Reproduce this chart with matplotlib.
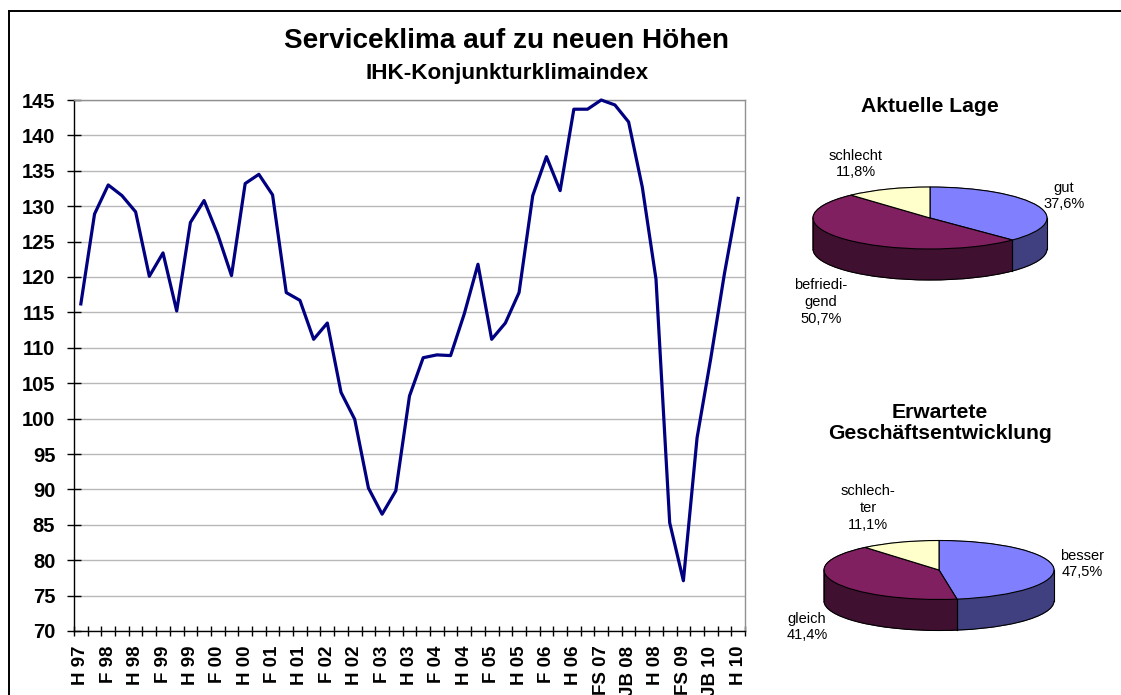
import matplotlib
matplotlib.use('Agg')
import matplotlib.pyplot as plt
from matplotlib.patches import Arc
from matplotlib.lines import Line2D
import numpy as np

# ---------------- data ----------------
values = [116.2, 128.9, 133.0, 131.5, 129.2, 120.1, 123.4, 115.2, 127.7, 130.8,
          126.0, 120.2, 133.2, 134.5, 131.6, 117.8, 116.7, 111.2, 113.5, 103.7,
          99.9, 90.2, 86.5, 89.8, 103.2, 108.6, 109.0, 108.9, 114.8, 121.8,
          111.2, 113.5, 117.8, 131.5, 137.0, 132.2, 143.7, 143.7, 145.0, 144.3,
          141.9, 132.7, 119.7, 85.3, 77.1, 97.3, 108.5, 120.5, 131.1]
tick_labels = ["H 97", "F 98", "H 98", "F 99", "H 99", "F 00", "H 00", "F 01",
               "H 01", "F 02", "H 02", "F 03", "H 03", "F 04", "H 04", "F 05",
               "H 05", "F 06", "H 06", "FS 07", "JB 08", "H 08", "FS 09",
               "JB 10", "H 10"]
y_ticks = list(range(70, 146, 5))

lage_labels = ["gut\n37,6%", "befriedi-\ngend\n50,7%", "schlecht\n11,8%"]
lage_values = [37.6, 50.7, 11.8]
erw_labels = ["besser\n47,5%", "gleich\n41,4%", "schlech-\nter\n11,1%"]
erw_values = [47.5, 41.4, 11.1]

top_colors = ["#8080FF", "#802060", "#FFFFCC"]
side_colors = ["#404080", "#401030", "#808066"]

# ---------------- figure ----------------
W, H = 1121, 695
plt.rcParams['font.family'] = ['Liberation Sans', 'DejaVu Sans']
fig = plt.figure(figsize=(W / 100, H / 100), dpi=100)


def fx(x):
    return x / W


def fy(y):
    return 1 - y / H


# outer frame
fig.add_artist(Line2D([fx(9), fx(9)], [fy(11), fy(H + 5)], color='black', lw=1.4))
fig.add_artist(Line2D([fx(9), fx(W + 5)], [fy(11), fy(11)], color='black', lw=1.4))

# ---------------- line chart ----------------
ax = fig.add_axes([fx(74), fy(631), fx(745) - fx(74), fy(100) - fy(631)])
xs = np.arange(len(values))
ax.plot(xs, values, color='#000080', lw=2.3, clip_on=False,
        solid_joinstyle='round', zorder=3)
ax.set_xlim(-0.5, len(values) - 0.5)
ax.set_ylim(70, 145)
ax.set_yticks(y_ticks)
ax.set_yticklabels([str(v) for v in y_ticks])
ax.yaxis.grid(True, color='#B8B8B8', lw=1.0)
ax.set_axisbelow(True)
ax.set_xticks(np.arange(0, len(values), 2))
ax.set_xticklabels(tick_labels, rotation=90, fontsize=13.5, fontweight='bold')
ax.set_xticks(np.arange(-0.5, len(values), 1), minor=True)
ax.tick_params(axis='x', which='major', length=0, pad=10.5)
ax.tick_params(axis='x', which='minor', direction='inout', length=7.5, width=1)
ax.tick_params(axis='y', direction='inout', length=10, width=1, pad=8.5,
               labelsize=14.5)
for lab in ax.get_yticklabels():
    lab.set_fontweight('bold')
ax.spines['left'].set_color('black')
ax.spines['bottom'].set_color('black')
ax.spines['top'].set_color('#909090')
ax.spines['right'].set_color('#909090')
for s in ax.spines.values():
    s.set_linewidth(1.0)

fig.text(fx(507), fy(41), 'Serviceklima auf zu neuen Höhen', ha='center',
         va='center', fontsize=20.1, fontweight='bold')
fig.text(fx(507.5), fy(74), 'IHK-Konjunkturklimaindex', ha='center',
         va='center', fontsize=16.2, fontweight='bold')


# ---------------- 3D pies ----------------
def pie3d(cx, cy, a, b, depth, vals):
    left, right = cx - a * 1.05, cx + a * 1.05
    top, bottom = cy - b * 1.15, cy + b * 1.15 + depth
    pax = fig.add_axes([fx(left), fy(bottom), (right - left) / W, (bottom - top) / H])
    d = depth / b
    for k in np.linspace(d, 0, int(depth) + 2):
        ws, _ = pax.pie(vals, colors=side_colors, startangle=90, counterclock=False,
                        center=(0, -k), wedgeprops=dict(linewidth=0.6))
        for w in ws:
            w.set_edgecolor(w.get_facecolor())
    pax.add_patch(Arc((0, -d), 2, 2, theta1=180, theta2=360, color='black', lw=0.8))
    wedges, _ = pax.pie(vals, colors=top_colors, startangle=90, counterclock=False,
                        center=(0, 0),
                        wedgeprops=dict(linewidth=0.8, edgecolor='black'))
    pax.plot([-1, -1], [0, -d], color='black', lw=0.8)
    pax.plot([1, 1], [0, -d], color='black', lw=0.8)
    for w in wedges:
        for th in (w.theta1, w.theta2):
            t = np.deg2rad(th)
            if np.sin(t) < -0.02:
                pax.plot([np.cos(t)] * 2, [np.sin(t), np.sin(t) - d],
                         color='black', lw=0.8)
    pax.set_xlim((left - cx) / a, (right - cx) / a)
    pax.set_ylim(-(bottom - cy) / b, (cy - top) / b)
    pax.set_aspect('auto')
    pax.axis('off')
    return pax


pie3d(930, 218, 117, 31, 31, lage_values)
pie3d(939, 570, 115, 29.5, 31, erw_values)

fig.text(fx(930), fy(106), 'Aktuelle Lage', ha='center', va='center',
         fontsize=15.2, fontweight='bold')
fig.text(fx(940), fy(423), 'Erwartete\nGeschäftsentwicklung', ha='center',
         va='center', fontsize=15.2, fontweight='bold', linespacing=1.15)

lage_pos = [(1064, 196), (821, 302), (856, 164)]
erw_pos = [(1082, 564), (807, 627), (868, 508)]
for lab, (px_, py_) in zip(lage_labels, lage_pos):
    fig.text(fx(px_), fy(py_), lab, ha='center', va='center', fontsize=10.5,
             linespacing=1.25)
for lab, (px_, py_) in zip(erw_labels, erw_pos):
    fig.text(fx(px_), fy(py_), lab, ha='center', va='center', fontsize=10.5,
             linespacing=1.25)

fig.savefig('out.png', dpi=100)
